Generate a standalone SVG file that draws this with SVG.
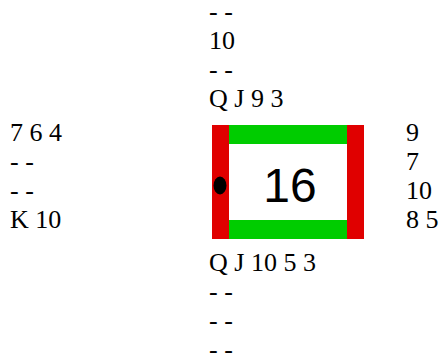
<svg xmlns="http://www.w3.org/2000/svg" width="441" height="362" viewBox="0 0 441 362">
<style>
.h{font-family:"Liberation Serif","Times New Roman",serif;font-size:26px;fill:#000}
.red{fill:#e00000}
.green{fill:#00cc00}
</style>
<rect width="441" height="362" fill="#fff"/>
<g id="north">
<text class="h" x="209" y="20">- -</text>
<text class="h" x="209" y="49">10</text>
<text class="h" x="209" y="78">- -</text>
<text class="h" x="209" y="107">Q J 9 3</text>
</g>
<g id="west">
<text class="h" x="10" y="141">7 6 4</text>
<text class="h" x="10" y="170">- -</text>
<text class="h" x="10" y="199">- -</text>
<text class="h" x="10" y="228">K 10</text>
</g>
<g id="east">
<text class="h" x="406" y="141">9</text>
<text class="h" x="406" y="170">7</text>
<text class="h" x="406" y="199">10</text>
<text class="h" x="406" y="228">8 5</text>
</g>
<g id="south">
<text class="h" x="209" y="271">Q J 10 5 3</text>
<text class="h" x="209" y="300">- -</text>
<text class="h" x="209" y="329">- -</text>
<text class="h" x="209" y="358">- -</text>
</g>
<g id="board">
<rect x="229" y="125" width="118" height="114" fill="#fff"/>
<rect class="green" x="229" y="125" width="118" height="19"/>
<rect class="green" x="229" y="220" width="118" height="19"/>
<rect class="red" x="212" y="125" width="17" height="114"/>
<rect class="red" x="347" y="125" width="17" height="114"/>
<ellipse cx="220" cy="185.5" rx="6.5" ry="9" fill="#000"/>
<text x="290" y="202" text-anchor="middle" font-family="Liberation Sans, Arial, sans-serif" font-size="48" fill="#000">16</text>
</g>
</svg>
